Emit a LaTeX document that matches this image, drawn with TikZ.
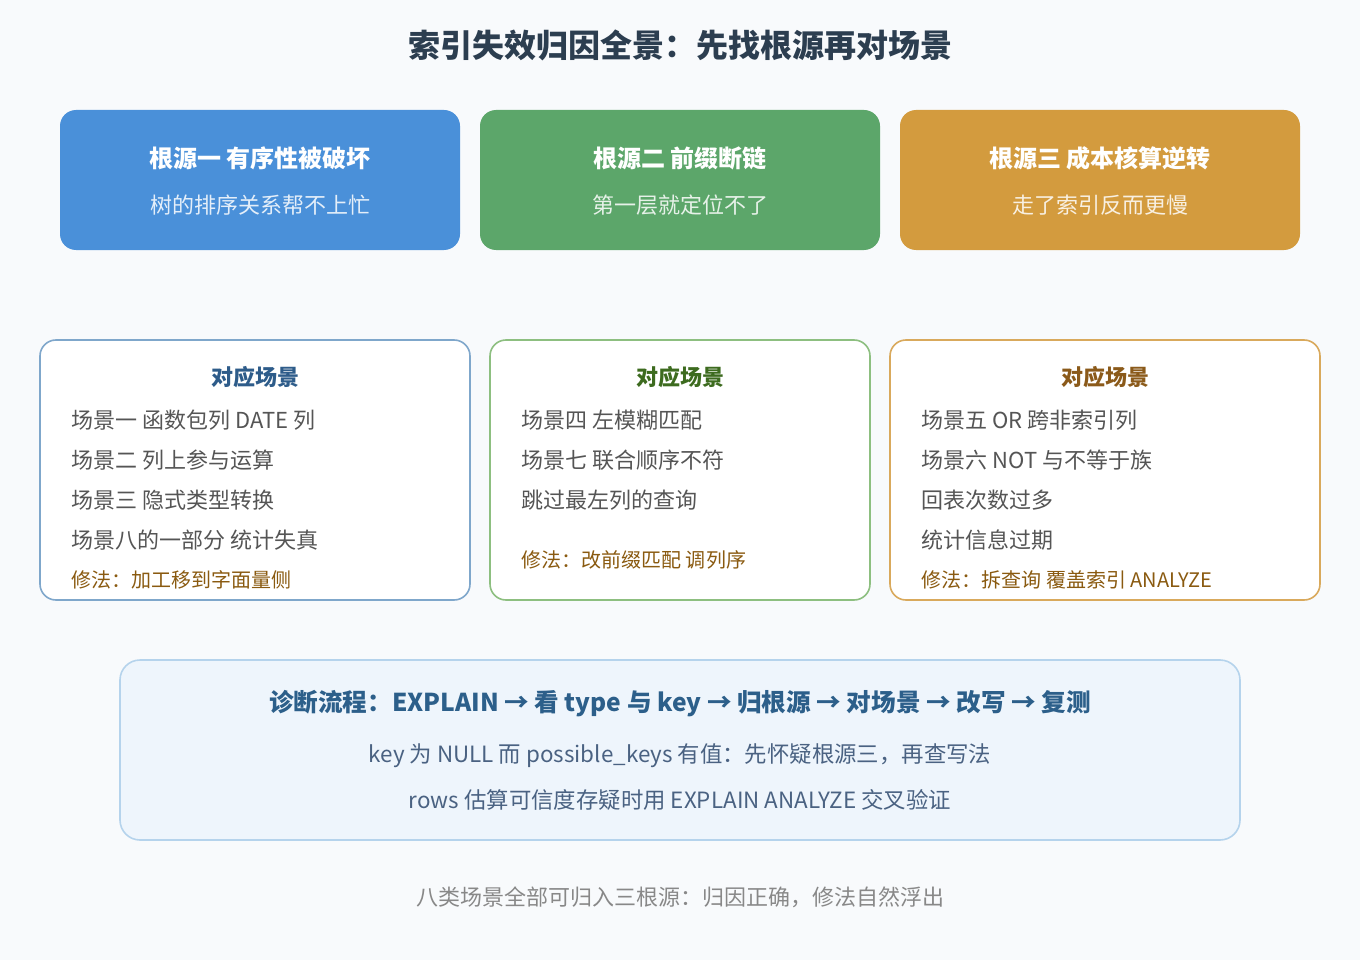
\documentclass[tikz,border=0pt]{standalone}
\usepackage{fontspec}
\setmainfont{Noto Sans CJK SC}
\definecolor{bg}{HTML}{F8FAFC}
\definecolor{titlec}{HTML}{2C3E50}
\definecolor{rblue}{HTML}{4A90D9}
\definecolor{rgreen}{HTML}{5CA66A}
\definecolor{rorange}{HTML}{D39B3E}
\definecolor{bblue}{HTML}{7FA7CB}
\definecolor{bgreen}{HTML}{8DBF80}
\definecolor{borange}{HTML}{D9A95C}
\definecolor{hblue}{HTML}{2E5C8A}
\definecolor{hgreen}{HTML}{3D6B1F}
\definecolor{horange}{HTML}{8B5A1A}
\definecolor{bodyc}{HTML}{555555}
\definecolor{fixc}{HTML}{8A5A10}
\definecolor{flowfill}{HTML}{EEF5FC}
\definecolor{flowborder}{HTML}{B5D3EC}
\definecolor{flowhead}{HTML}{2C5F8A}
\definecolor{flowbody}{HTML}{4A6282}
\definecolor{footc}{HTML}{888888}
\tikzset{
  rootbox/.style={rounded corners=16pt, draw=none},
  scenebox/.style={rounded corners=16pt, line width=1.6pt, fill=white},
  roottitle/.style={text=white, font=\fontsize{24}{28}\selectfont\bfseries, anchor=center},
  rootsub/.style={text=white, text opacity=0.85, font=\fontsize{22}{26}\selectfont, anchor=center},
  scenehead/.style={font=\fontsize{22}{26}\selectfont\bfseries, anchor=center},
  sceneline/.style={text=bodyc, font=\fontsize{22}{26}\selectfont, anchor=west},
  fixline/.style={text=fixc, font=\fontsize{20}{24}\selectfont, anchor=west},
  flowline/.style={text=flowbody, font=\fontsize{22.4}{26}\selectfont},
}
\begin{document}
\begin{tikzpicture}[x=1pt,y=-1pt]
\fill[bg] (0,0) rectangle (1360,960);
\useasboundingbox (0,0) rectangle (1360,960);

\node[text=titlec, font=\fontsize{32}{36}\selectfont\bfseries] (title) at (680,45) {索引失效归因全景：先找根源再对场景};

% root boxes
\fill[rootbox, rblue] (60,110) rectangle (460,250);
\node[roottitle] (r1t) at (260,158) {根源一 有序性被破坏};
\node[rootsub] (r1s) at (260,205) {树的排序关系帮不上忙};

\fill[rootbox, rgreen] (480,110) rectangle (880,250);
\node[roottitle] (r2t) at (680,158) {根源二 前缀断链};
\node[rootsub] (r2s) at (680,205) {第一层就定位不了};

\fill[rootbox, rorange] (900,110) rectangle (1300,250);
\node[roottitle] (r3t) at (1100,158) {根源三 成本核算逆转};
\node[rootsub] (r3s) at (1100,205) {走了索引反而更慢};

% scene boxes
\draw[scenebox, draw=bblue] (40,340) rectangle (470,600);
\node[scenehead, text=hblue] (s1h) at (255,377) {对应场景};
\node[sceneline] (s1a) at (68,420) {场景一 函数包列 DATE 列};
\node[sceneline] (s1b) at (68,460) {场景二 列上参与运算};
\node[sceneline] (s1c) at (68,500) {场景三 隐式类型转换};
\node[sceneline] (s1d) at (68,540) {场景八的一部分 统计失真};
\node[fixline] (s1f) at (68,580) {修法：加工移到字面量侧};

\draw[scenebox, draw=bgreen] (490,340) rectangle (870,600);
\node[scenehead, text=hgreen] (s2h) at (680,377) {对应场景};
\node[sceneline] (s2a) at (518,420) {场景四 左模糊匹配};
\node[sceneline] (s2b) at (518,460) {场景七 联合顺序不符};
\node[sceneline] (s2c) at (518,500) {跳过最左列的查询};
\node[fixline] (s2f) at (518,560) {修法：改前缀匹配 调列序};

\draw[scenebox, draw=borange] (890,340) rectangle (1320,600);
\node[scenehead, text=horange] (s3h) at (1105,377) {对应场景};
\node[sceneline] (s3a) at (918,420) {场景五 OR 跨非索引列};
\node[sceneline] (s3b) at (918,460) {场景六 NOT 与不等于族};
\node[sceneline] (s3c) at (918,500) {回表次数过多};
\node[sceneline] (s3d) at (918,540) {统计信息过期};
\node[fixline] (s3f) at (918,580) {修法：拆查询 覆盖索引 ANALYZE};

% flow box
\draw[rounded corners=20pt, line width=1.6pt, draw=flowborder, fill=flowfill] (120,660) rectangle (1240,840);
\node[text=flowhead, font=\fontsize{24.6}{28}\selectfont\bfseries] (fh) at (680,704) {诊断流程：EXPLAIN → 看 type 与 key → 归根源 → 对场景 → 改写 → 复测};
\node[flowline] (f1) at (680,756) {key 为 NULL 而 possible\_keys 有值：先怀疑根源三，再查写法};
\node[flowline] (f2) at (680,800) {rows 估算可信度存疑时用 EXPLAIN ANALYZE 交叉验证};

\node[text=footc, font=\fontsize{22}{26}\selectfont] (foot) at (680,897) {八类场景全部可归入三根源：归因正确，修法自然浮出};
\end{tikzpicture}
\end{document}
